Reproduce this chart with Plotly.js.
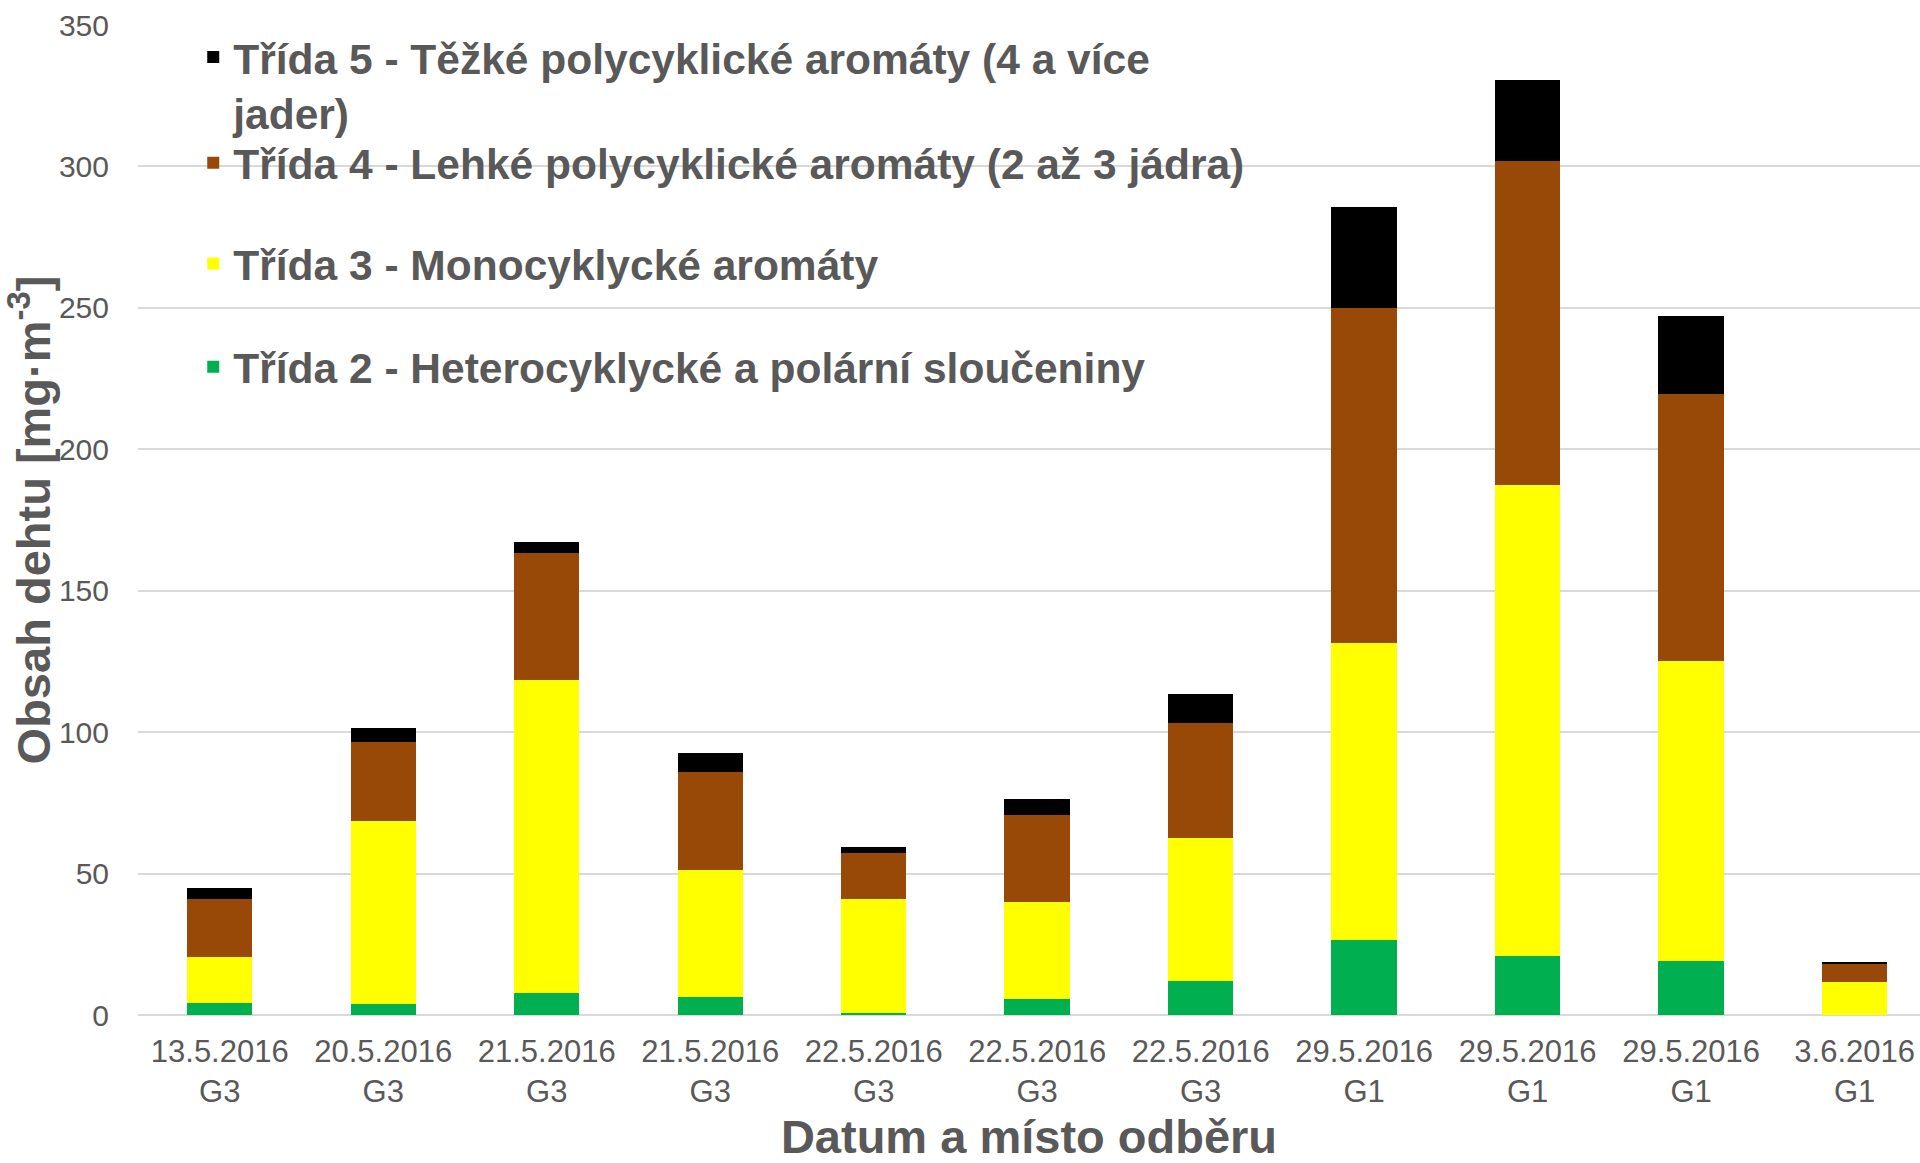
<!DOCTYPE html>
<html>
<head>
<meta charset="utf-8">
<script src="https://cdn.plot.ly/plotly-3.0.1.min.js"></script>
<style>html,body{margin:0;padding:0;background:#fff;}#chart{width:1920px;height:1163px;}</style>
</head>
<body>
<div id="chart"></div>
<script>
// --- data ---
const dates = ["13.5.2016","20.5.2016","21.5.2016","21.5.2016","22.5.2016","22.5.2016","22.5.2016","29.5.2016","29.5.2016","29.5.2016","3.6.2016"];
const sites = ["G3","G3","G3","G3","G3","G3","G3","G1","G1","G1","G1"];
const trida2 = [4.2, 3.9, 7.9, 6.5, 0.7, 5.5, 11.9, 26.5, 20.8, 19.0, 0.0];
const trida3 = [16.4, 64.6, 110.7, 44.7, 40.3, 34.4, 50.6, 105.0, 166.5, 106.2, 11.5];
const trida4 = [20.4, 28.0, 44.9, 34.6, 16.2, 30.9, 40.6, 118.4, 114.5, 94.4, 6.7];
const trida5 = [3.8, 4.8, 3.6, 6.9, 2.1, 5.6, 10.5, 35.7, 28.8, 27.5, 0.5];
const seriesNames = [
  "Třída 2 - Heterocyklycké a polární sloučeniny",
  "Třída 3 - Monocyklycké aromáty",
  "Třída 4 - Lehké polycyklické aromáty (2 až 3 jádra)",
  "Třída 5 - Těžké polycyklické aromáty (4 a více<br>jader)"
];
const yTitle = "Obsah dehtu [mg·m<sup>-3</sup>]";
const xTitle = "Datum a místo odběru";

// --- build ---
const tickText = dates.map((d, i) => d + "<br>" + sites[i]);
const xIdx = dates.map((_, i) => i);
const colors = ["#00B050", "#FFFF00", "#984807", "#000000"];
const values = [trida2, trida3, trida4, trida5];
const legendIds = ["legend4", "legend3", "legend2", "legend"];

const traces = values.map((v, k) => ({
  type: "bar",
  x: xIdx,
  y: v,
  name: seriesNames[k],
  legend: legendIds[k],
  marker: { color: colors[k], line: { width: 0 } },
  hoverinfo: "x+y+name"
}));

const gray = "#595959";
const legFont = { family: "Liberation Sans, Arial, sans-serif", size: 42.5, color: gray, weight: "bold" };
function leg(y) {
  return { x: 0.031, y: y, xanchor: "left", yanchor: "middle", bgcolor: "rgba(0,0,0,0)",
           font: legFont, valign: "top", itemwidth: 30, itemclick: false, itemdoubleclick: false };
}

const layout = {
  width: 1920, height: 1163,
  margin: { l: 138, r: 0, t: 25, b: 148 },
  paper_bgcolor: "#ffffff", plot_bgcolor: "#ffffff",
  barmode: "stack",
  bargap: 0.6,
  showlegend: true,
  legend: leg(0.9395),
  legend2: leg(0.8606),
  legend3: leg(0.7586),
  legend4: leg(0.6545),
  xaxis: {
    range: [-0.5, 10.4],
    tickmode: "array", tickvals: xIdx, ticktext: tickText,
    ticks: "", showgrid: false, showline: false, zeroline: false,
    ticklabelstandoff: 15,
    tickfont: { family: "Liberation Sans, Arial, sans-serif", size: 31, color: gray },
    title: { text: xTitle, standoff: 24,
             font: { family: "Liberation Sans, Arial, sans-serif", size: 47, color: gray, weight: "bold" } },
    automargin: false, fixedrange: true
  },
  yaxis: {
    range: [0, 350], dtick: 50, tick0: 0,
    ticks: "", showline: false,
    showgrid: true, gridcolor: "#d9d9d9", gridwidth: 2,
    zeroline: true, zerolinecolor: "#d9d9d9", zerolinewidth: 2,
    tickfont: { family: "Liberation Sans, Arial, sans-serif", size: 30, color: gray },
    ticklabelstandoff: 28,
    title: { text: yTitle, standoff: 0,
             font: { family: "Liberation Sans, Arial, sans-serif", size: 47, color: gray, weight: "bold" } },
    automargin: false, fixedrange: true
  },
  font: { family: "Liberation Sans, Arial, sans-serif", color: gray }
};

Plotly.newPlot("chart", traces, layout, { displayModeBar: false });
</script>
</body>
</html>
